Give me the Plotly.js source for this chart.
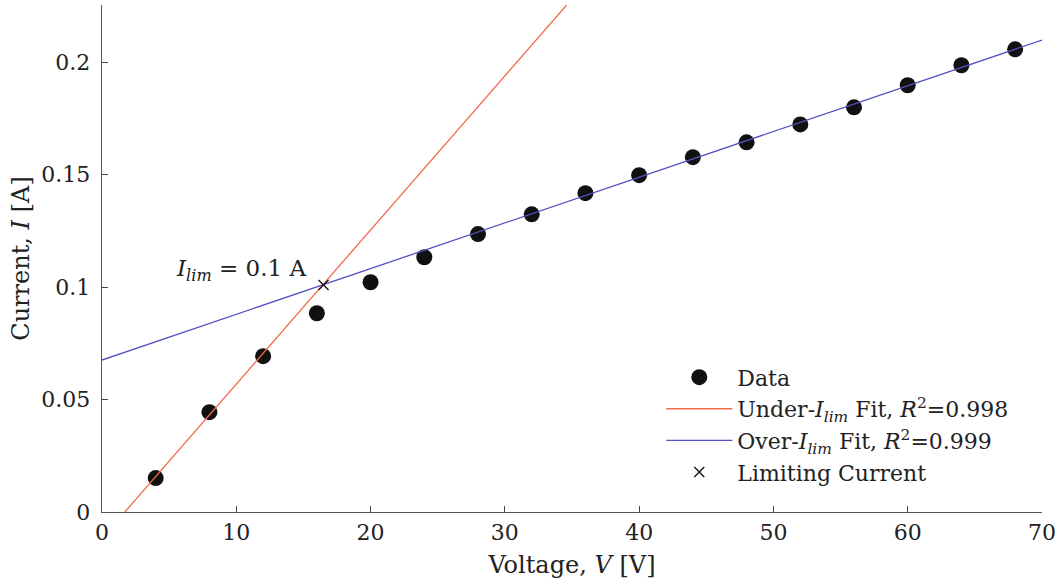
<!DOCTYPE html>
<html>
<head>
<meta charset="utf-8">
<script src="https://cdn.plot.ly/plotly-3.0.1.min.js"></script>
<style>html,body{margin:0;padding:0;background:#fff;}#chart{width:1059px;height:586px;}</style>
</head>
<body>
<div id="chart"></div>
<script>
// Measured data
const voltage = [4, 8, 12, 16, 20, 24, 28, 32, 36, 40, 44, 48, 52, 56, 60, 64, 68];
const current = [0.0151, 0.0444, 0.0693, 0.0884, 0.1022, 0.1133, 0.1236, 0.1324, 0.1418, 0.1498, 0.1578, 0.1644, 0.1724, 0.1800, 0.1898, 0.1987, 0.2058];
// Fit lines (end points)
const underFitV = [1.7, 34.6];
const underFitI = [0.0, 0.2255];
const overFitV = [0, 70];
const overFitI = [0.0676, 0.2099];
// Limiting current
const limV = [16.5];
const limI = [0.101];

const serif = "DejaVu Serif, serif";

const traces = [
  {x: voltage, y: current, type: 'scatter', mode: 'markers', name: 'Data',
   marker: {color: '#111', size: 16, line: {width: 0}}},
  {x: underFitV, y: underFitI, type: 'scatter', mode: 'lines',
   name: 'Under-<i>I</i><sub><i>lim</i></sub> Fit, <i>R</i><sup>2</sup>=0.998',
   line: {color: '#f36a4e', width: 1.3}},
  {x: overFitV, y: overFitI, type: 'scatter', mode: 'lines',
   name: 'Over-<i>I</i><sub><i>lim</i></sub> Fit, <i>R</i><sup>2</sup>=0.999',
   line: {color: '#5252c2', width: 1.3}},
  {x: limV, y: limI, type: 'scatter', mode: 'markers', name: 'Limiting Current',
   marker: {symbol: 'x-thin', size: 10, color: '#111', line: {width: 1.3, color: '#111'}}}
];

const layout = {
  width: 1059, height: 586,
  margin: {l: 102, r: 17, t: 5, b: 74},
  paper_bgcolor: '#fff', plot_bgcolor: '#fff',
  font: {family: serif, size: 22, color: '#222'},
  showlegend: true,
  legend: {x: 0.595, y: 0.307, xanchor: 'left', yanchor: 'top', itemwidth: 66,
           bgcolor: 'rgba(255,255,255,0)', font: {family: serif, size: 22, color: '#222'},
           tracegroupgap: 0},
  xaxis: {range: [0, 70], dtick: 10, tick0: 0, ticks: 'inside', ticklen: 6, tickcolor: '#444',
          showline: true, linecolor: '#555', linewidth: 1.3, showgrid: false, zeroline: false,
          mirror: false, tickfont: {family: serif, size: 22, color: '#222'},
          title: {text: 'Voltage, <i>V</i> [V]', font: {family: serif, size: 24, color: '#222'}, standoff: 12}},
  yaxis: {range: [0, 0.2255], dtick: 0.05, tick0: 0, ticks: 'inside', ticklen: 6, tickcolor: '#444',
          showline: true, linecolor: '#555', linewidth: 1.3, showgrid: false, zeroline: false,
          ticklabelstandoff: 6, tickfont: {family: serif, size: 22, color: '#222'},
          title: {text: 'Current, <i>I</i> [A]', font: {family: serif, size: 24, color: '#222'}, standoff: 5}},
  annotations: [
    {x: limV[0], y: limI[0], xref: 'x', yref: 'y', text: '<i>I</i><sub><i>lim</i></sub> = 0.1 A',
     showarrow: false, xanchor: 'right', yanchor: 'bottom', xshift: -16, yshift: -2,
     font: {family: serif, size: 23, color: '#222'}}
  ]
};

Plotly.newPlot('chart', traces, layout, {displayModeBar: false, staticPlot: true});
</script>
</body>
</html>
